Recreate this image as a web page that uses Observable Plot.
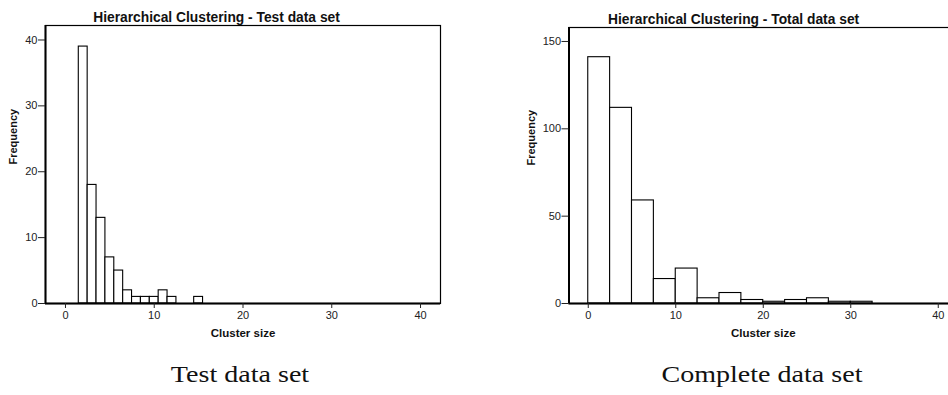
<!DOCTYPE html>
<html>
<head>
<meta charset="utf-8">
<script src="https://cdn.jsdelivr.net/npm/d3@7"></script>
<script src="https://cdn.jsdelivr.net/npm/@observablehq/plot@0.6"></script>
<style>
  html, body { margin: 0; padding: 0; background: white; }
  #wrap { position: relative; width: 948px; height: 395px; overflow: hidden; }
  .panel { position: absolute; top: 0; }
  .panel svg { max-width: none !important; }
  .caption { position: absolute; top: 362px; font-family: "Liberation Serif", serif; font-size: 23px; color: #111; transform: translateX(-50%) scaleX(1.22); white-space: nowrap; }
</style>
</head>
<body>
<div id="wrap">
  <div id="left" class="panel" style="left:0; width:474px"></div>
  <div id="right" class="panel" style="left:474px; width:520px"></div>
  <div class="caption" style="left:240px">Test data set</div>
  <div class="caption" style="left:762px">Complete data set</div>
</div>
<script>
// Test data set: cluster sizes (bin centers, width 1) and frequencies
const testSizes = [2, 3, 4, 5, 6, 7, 8, 9, 10, 11, 12, 13, 14, 15];
const testFreq  = [39, 18, 13, 7, 5, 2, 1, 1, 1, 2, 1, 0, 0, 1];

// Total data set: bin starts (width 2.5) and frequencies
const totalBinStart = [0, 2.5, 5, 7.5, 10, 12.5, 15, 17.5, 20, 22.5, 25, 27.5, 30];
const totalFreq     = [141, 112, 59, 14, 20, 3, 6, 2, 1, 2, 3, 1, 1];
const totalBinWidth = 2.5;

const xTicks = [0, 10, 20, 30, 40];
const testYTicks = [0, 10, 20, 30, 40];
const totalYTicks = [0, 50, 100, 150];

const titles = ["Hierarchical Clustering - Test data set", "Hierarchical Clustering - Total data set"];
const xLabel = "Cluster size";
const yLabel = "Frequency";

const testData = testSizes.map((s, i) => ({x1: s - 0.5, x2: s + 0.5, freq: testFreq[i]})).filter(d => d.freq > 0);
const totalData = totalBinStart.map((s, i) => ({x1: s, x2: s + totalBinWidth, freq: totalFreq[i]}));

function panel({data, width, marginLeft, marginRight, marginTop, xDomain, yDomain, yTicks, title, titleDx, yLabelDx}) {
  return Plot.plot({
    width, height: 345,
    marginLeft, marginRight, marginTop, marginBottom: 42,
    style: {fontFamily: "Liberation Sans, Arial, sans-serif", fontSize: "11px", color: "#222", background: "transparent", maxWidth: "none"},
    x: {domain: xDomain},
    y: {domain: yDomain},
    marks: [
      Plot.rectY(data, {x1: "x1", x2: "x2", y: "freq", fill: "white", stroke: "black", strokeWidth: 1.1}),
      Plot.frame({stroke: "black", strokeWidth: 1.2}),
      Plot.ruleY([0], {stroke: "black", strokeWidth: 2}),
      Plot.ruleX([xDomain[0]], {stroke: "black", strokeWidth: 2}),
      Plot.axisX({ticks: xTicks, tickSize: 5, tickPadding: 3, label: null}),
      Plot.axisY({ticks: yTicks, tickSize: 7, tickPadding: 1, label: null}),
      Plot.text([title], {text: d => d, frameAnchor: "top", dx: titleDx, dy: -13, fontWeight: "bold", fontSize: 13.8, fill: "#111"}),
      Plot.text([yLabel], {text: d => d, frameAnchor: "left", rotate: -90, dx: yLabelDx, fontWeight: "bold", fontSize: 11, fill: "#111"}),
      Plot.text([xLabel], {text: d => d, frameAnchor: "bottom", dy: 33, fontWeight: "bold", fontSize: 11.5, fill: "#111"})
    ]
  });
}

document.getElementById("left").append(panel({
  data: testData, width: 474, marginLeft: 45, marginRight: 34, marginTop: 25,
  xDomain: [-2.25, 42.25], yDomain: [0, 42.2], yTicks: testYTicks,
  title: titles[0], titleDx: -26.5, yLabelDx: -32
}));

document.getElementById("right").append(panel({
  data: totalData, width: 520, marginLeft: 94.5, marginRight: 37, marginTop: 27,
  xDomain: [-2.2, 42.2], yDomain: [0, 158], yTicks: totalYTicks,
  title: titles[1], titleDx: -29.7, yLabelDx: -37.6
}));
</script>
</body>
</html>
